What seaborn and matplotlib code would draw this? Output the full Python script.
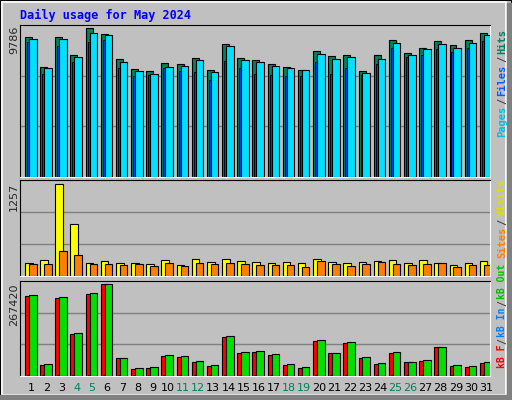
import matplotlib
matplotlib.use("Agg")
import matplotlib.pyplot as plt
import seaborn as sns
import numpy as np
from matplotlib.patches import Rectangle

sns.set_style("white")
plt.rcParams['font.family'] = ['DejaVu Sans Mono', 'DejaVu Sans']

days = list(range(1, 32))
weekend_days = [4, 5, 11, 12, 18, 19, 25, 26]
hits = [9209,7213,9209,8050,9786,9402,7792,7084,6955,7470,7406,7857,7020,8758,7857,7728,
        7406,7213,7020,8308,7986,8050,6955,8050,9016,8179,8501,8952,8694,9016,9467]
files = [9080,7148,9080,7921,9467,9338,7535,6955,6762,7213,7277,7728,6891,8630,7728,7535,
         7277,7148,7020,8114,7792,7921,6826,7792,8823,8050,8436,8758,8501,8823,9338]
pages = [8887,6762,8630,7535,8887,9016,7148,6633,6698,7148,6955,6891,6376,7664,7148,6762,
         6698,6633,6633,7535,6762,7148,6698,7406,8501,7921,8050,8436,8243,8501,8952]
visits = [178,219,1257,710,178,205,178,178,164,219,150,232,191,232,205,191,178,191,178,232,
          191,178,191,205,219,178,219,178,150,178,205]
sites = [164,164,342,287,164,164,150,164,137,178,137,178,164,178,164,150,150,150,123,205,
         164,137,164,191,164,150,164,178,123,150,150]
kb_in = [235321,34034,229486,124467,241155,267420,51537,22365,25282,60289,57372,42786,31117,
         115716,69040,71958,63206,34034,25282,104047,66123,98212,54454,36951,69040,39868,45703,
         83626,31117,28200,39868]
kb_f = [232400,31100,226600,121500,238200,267420,51500,19400,22400,57400,54500,39900,28200,
        112800,66100,69000,60300,31100,22400,101100,66100,95300,51500,34000,66100,39900,42800,
        83600,28200,25300,37000]
kb_out = [1500] * 31

BG = "#c0c0c0"
fig = plt.figure(figsize=(5.12, 4.0), dpi=100, facecolor=BG)
# frame
fig.patches.append(Rectangle((0, 0), 1, 1, transform=fig.transFigure, fill=False,
                             edgecolor="black", linewidth=1.5))
fig.patches.append(Rectangle((2/512, 5/400), 504/512, 393/400, transform=fig.transFigure,
                             fill=False, edgecolor="white", linewidth=1.2))
fig.patches.append(Rectangle((507/512, 0), 5/512, 397/400, transform=fig.transFigure,
                             color="#808080"))
fig.patches.append(Rectangle((0, 0), 1, 5/400, transform=fig.transFigure, color="#808080"))

def px_ax(top, bottom):
    return [20/512, 1 - bottom/400, 470/512, (bottom - top)/400]

axes = [fig.add_axes(px_ax(25, 177)), fig.add_axes(px_ax(180, 276)), fig.add_axes(px_ax(281, 376))]
x = np.arange(31)

def style(ax, ymax):
    ax.set_facecolor(BG)
    ax.set_xlim(0, 31)
    ax.set_ylim(0, ymax)
    for g in (ymax/3, 2*ymax/3):
        ax.axhline(g, color="#808080", linewidth=1, zorder=0)
    ax.set_xticks([]); ax.set_yticks([])
    for s in ("left", "top"):
        ax.spines[s].set_color("black")
    for s in ("right", "bottom"):
        ax.spines[s].set_color("white")

ax = axes[0]
style(ax, 10000)
ax.bar(x + 0.33, hits, width=0.46, align="edge", color="#00805c", edgecolor="black", lw=0.8, zorder=2)
ax.bar(x + 0.46, pages, width=0.14, align="edge", color="#0040ff", edgecolor="black", lw=0.6, zorder=3)
ax.bar(x + 0.59, files, width=0.5, align="edge", color="#00e0ff", edgecolor="black", lw=0.8, zorder=4)

ax = axes[1]
style(ax, 1312)
ax.bar(x + 0.33, visits, width=0.5, align="edge", color="#ffff00", edgecolor="black", lw=0.8, zorder=2)
ax.bar(x + 0.59, sites, width=0.5, align="edge", color="#ff8000", edgecolor="black", lw=0.8, zorder=3)

ax = axes[2]
style(ax, 276172)
ax.bar(x + 0.33, kb_f, width=0.5, align="edge", color="#ff0000", edgecolor="black", lw=0.8, zorder=2)
ax.bar(x + 0.59, kb_in, width=0.5, align="edge", color="#00e000", edgecolor="black", lw=0.8, zorder=3)
ax.bar(x + 0.46, kb_out, width=0.12, align="edge", color="#0080ff", edgecolor="black", lw=0.4, zorder=4)

# day labels
for d in days:
    col = "#00805c" if d in weekend_days else "black"
    axes[2].text(d - 1 + 0.75, -0.13, str(d), transform=axes[2].get_xaxis_transform(),
                 ha="center", va="center", fontsize=8, color=col, family="DejaVu Sans")

fig.text(20/512, 1 - 15/400, "Daily usage for May 2024", color="#0000ff", fontsize=8.5,
         fontweight="bold", ha="left", va="center")

def ylab(txt, ypx):
    fig.text(14/512, 1 - ypx/400, txt, rotation=90, ha="center", va="top", fontsize=8,
             family="DejaVu Sans")
ylab("9786", 26)
ylab("1257", 183)
ylab("267420", 283)

fig.canvas.draw()
r = fig.canvas.get_renderer()
def rlab(parts, ybottom_px, fs=7.5, gap=2):
    y = ybottom_px
    for txt, col in parts:
        t = fig.text(502/512, 1 - y/400, txt, rotation=90, ha="center", va="bottom",
                     fontsize=fs, color=col, fontweight="bold")
        h = t.get_window_extent(r).height
        y -= h + gap

rlab([("Pages", "#00c0e0"), ("/", "#404040"), ("Files", "#0060ff"), ("/", "#404040"), ("Hits", "#00805c")], 137)
rlab([("Sites", "#ff8000"), ("/", "#404040"), ("Visits", "#e0e000")], 258)
rlab([("kB F", "#ff0000"), ("/", "#404040"), ("kB In", "#0080ff"), ("/", "#404040"), ("kB Out", "#00c000")], 368, fs=7, gap=1)

fig.savefig("out.png", dpi=100, facecolor=BG)
